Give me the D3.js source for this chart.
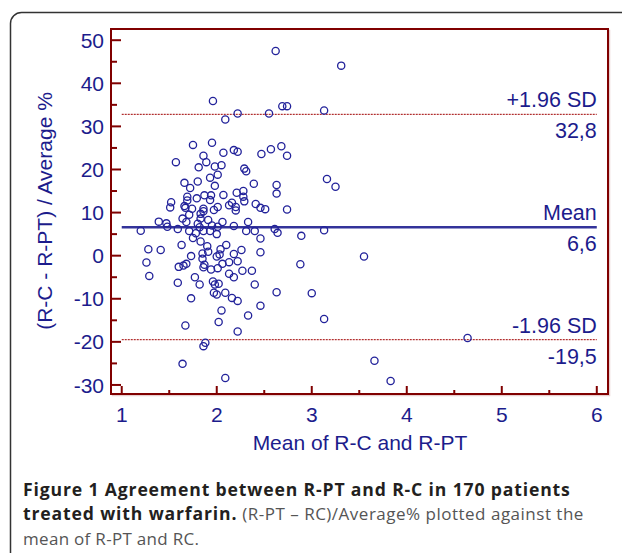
<!DOCTYPE html>
<html><head><meta charset="utf-8">
<script src="https://cdn.jsdelivr.net/npm/d3@7"></script>
<style>body{margin:0;background:#fff}svg{display:block}</style>
</head><body>
<script>
const meanX = [2.62,3.31,1.96,2.09,2.22,2.55,2.69,2.74,3.13,1.75,1.95,1.57,1.86,1.89,1.81,1.98,2.05,2.07,2.18,2.22,2.47,2.57,2.68,2.74,2.29,2.31,2.01,1.93,1.80,1.66,1.72,1.98,2.39,2.63,2.63,3.16,3.25,1.52,1.69,1.79,1.87,1.94,1.93,2.07,2.21,2.28,2.28,2.29,
1.51,1.69,1.66,1.67,1.74,1.86,1.86,1.97,2.01,2.13,2.16,2.20,2.20,2.41,2.46,2.51,2.74,
1.71,1.64,1.83,1.83,1.91,1.39,1.47,1.48,1.59,1.68,1.80,1.82,1.71,1.78,1.86,1.93,1.95,2.00,2.01,2.06,2.18,2.33,2.31,2.40,2.61,2.64,2.89,3.13,1.20,1.75,1.83,1.63,1.28,1.41,1.26,1.29,1.60,1.65,1.68,1.73,1.90,1.91,1.85,1.85,1.86,1.87,1.94,2.01,2.00,2.03,2.04,2.10,2.06,2.13,2.13,2.18,2.18,2.22,2.26,2.27,2.37,2.46,2.46,2.88,1.59,1.77,1.82,1.96,1.98,2.02,1.97,2.00,2.09,2.16,2.22,2.40,2.63,3.00,1.73,2.05,2.02,2.33,2.46,3.13,1.67,2.22,1.88,1.86,1.64,2.09,
3.55,4.64,3.66,3.83];
const diffPct = [47.5,44.1,35.9,31.6,33.0,33.0,34.7,34.7,33.7,25.7,26.2,21.7,23.2,21.7,20.5,20.7,21.0,23.9,24.5,24.1,23.6,24.7,25.4,23.2,20.2,19.6,18.8,18.1,17.2,16.9,15.7,16.2,16.7,16.4,14.4,17.8,16.0,12.4,13.7,13.3,14.0,14.0,12.9,14.1,14.6,15.0,13.7,12.6,
11.2,12.8,11.5,11.1,10.9,10.9,10.3,10.6,11.3,11.7,12.3,11.3,10.5,12.0,11.1,10.8,10.7,
9.5,8.6,8.6,9.7,8.3,7.9,7.5,6.7,6.2,7.8,7.4,6.6,5.7,5.2,5.7,5.7,7.0,5.0,6.7,7.8,6.9,7.8,5.7,5.7,6.2,5.3,4.6,5.9,5.8,4.1,3.3,2.5,1.5,1.3,-1.6,-4.7,-2.6,-2.3,-1.9,-0.1,2.2,0.9,0.5,-0.7,-2.7,-2.1,-3.2,-2.9,-0.2,0.3,1.5,2.5,-1.9,-1.5,-4.2,-5.0,0.4,-1.3,1.3,-3.5,-3.5,4.0,0.8,-2.0,-6.3,-5.0,-6.7,-6.0,-6.7,-6.5,-8.6,-9.0,-8.6,-9.8,-10.5,-6.7,-8.5,-8.7,-9.9,-12.7,-15.4,-13.9,-11.6,-14.7,-16.2,-17.6,-20.2,-21.0,-25.1,-28.4,
-0.2,-19.1,-24.4,-29.1];
const xTicks = [1,2,3,4,5,6];
const yTicks = [-30,-20,-10,0,10,20,30,40,50];
const refLines = [
  {name:"+1.96 SD", value:32.8, label:"32,8"},
  {name:"Mean", value:6.6, label:"6,6"},
  {name:"-1.96 SD", value:-19.5, label:"-19,5"}
];
const captionBold1 = "Figure 1 Agreement between R-PT and R-C in 170 patients";
const captionBold2 = "treated with warfarin.";
const captionRest2 = " (R-PT \u2013 RC)/Average% plotted against the";
const captionLine3 = "mean of R-PT and RC.";

const W=622,H=553;
const navy="#1c1c8c", red="#800000";
const svg=d3.select("body").append("svg").attr("width",W).attr("height",H);
const ff="Liberation Sans, Arial, sans-serif";

// outer rounded box
svg.append("rect").attr("x",10.5).attr("y",12.5).attr("width",640).attr("height",570)
  .attr("rx",11).attr("fill","none").attr("stroke","#333").attr("stroke-width",1.5);

const L=111,R=608,T=29,B=394;
const x=d3.scaleLinear().domain([0.887,6.118]).range([L,R]);
const y=d3.scaleLinear().domain([-32.1,52.6]).range([B,T]);

// frame shadow + frame
svg.append("rect").attr("x",L+1.5).attr("y",T+1.5).attr("width",R-L).attr("height",B-T)
  .attr("fill","none").attr("stroke","#e8d0d0").attr("stroke-width",1.5);
svg.append("rect").attr("x",L).attr("y",T).attr("width",R-L).attr("height",B-T)
  .attr("fill","#fff").attr("stroke",red).attr("stroke-width",2);

// y ticks inward
const g=svg.append("g");
const yMinor=d3.range(-30,51,5);
g.selectAll("line.ym").data(yMinor).join("line")
  .attr("x1",L).attr("x2",d=>L+(d%10===0?10:6)).attr("y1",d=>y(d)).attr("y2",d=>y(d))
  .attr("stroke",red).attr("stroke-width",2);
g.selectAll("text.yl").data(yTicks).join("text")
  .attr("x",L-7).attr("y",d=>y(d)).attr("dy","0.36em").attr("text-anchor","end")
  .attr("font-family",ff).attr("font-size",21).attr("fill",navy)
  .text(d=>d);
// x ticks inward
const xMinor=d3.range(1,6.01,0.5);
g.selectAll("line.xm").data(xMinor).join("line")
  .attr("y1",B).attr("y2",d=>B-(Number.isInteger(d)?8:4)).attr("x1",d=>x(d)).attr("x2",d=>x(d))
  .attr("stroke",red).attr("stroke-width",2);
g.selectAll("text.xl").data(xTicks).join("text")
  .attr("x",d=>x(d)).attr("y",422).attr("text-anchor","middle")
  .attr("font-family",ff).attr("font-size",21).attr("fill",navy)
  .text(d=>d);

// reference lines
refLines.forEach(r=>{
  const mean=r.name==="Mean";
  svg.append("line").attr("x1",x(1)).attr("x2",x(6)).attr("y1",y(r.value)).attr("y2",y(r.value))
    .attr("stroke",mean?"#33339a":"#a00000").attr("stroke-width",mean?2.6:1)
    .attr("stroke-dasharray",mean?null:"2,1");
  svg.append("text").attr("x",x(6)).attr("y",y(r.value)-7).attr("text-anchor","end")
    .attr("font-family",ff).attr("font-size",21.5).attr("fill",navy).text(r.name);
  svg.append("text").attr("x",x(6)).attr("y",y(r.value)+24).attr("text-anchor","end")
    .attr("font-family",ff).attr("font-size",21.5).attr("fill",navy).text(r.label);
});

// points
svg.append("g").selectAll("circle").data(meanX.map((v,i)=>[v,diffPct[i]])).join("circle")
  .attr("cx",d=>x(d[0])).attr("cy",d=>y(d[1])).attr("r",3.6)
  .attr("fill","none").attr("stroke","#22229a").attr("stroke-width",1.3);

// axis titles
svg.append("text").attr("x",360).attr("y",450).attr("text-anchor","middle")
  .attr("font-family",ff).attr("font-size",21).attr("fill",navy)
  .text("Mean of R-C and R-PT");
svg.append("text").attr("transform","translate(52,211) rotate(-90)").attr("text-anchor","middle")
  .attr("font-family",ff).attr("font-size",21).attr("fill",navy)
  .text("(R-C - R-PT) / Average %");

// caption
const cf="Open Sans, Noto Sans, sans-serif";
svg.append("text").attr("x",23).attr("y",496).attr("font-family",cf).attr("font-size",17.6)
  .attr("letter-spacing",0.85).attr("font-weight","bold").attr("fill","#231f20").text(captionBold1);
const t2=svg.append("text").attr("x",23).attr("y",520.3).attr("font-family",cf).attr("font-size",17.6);
t2.append("tspan").attr("font-weight","bold").attr("letter-spacing",0.85).attr("fill","#231f20").text(captionBold2);
t2.append("tspan").attr("fill","#555").attr("font-size",17).attr("letter-spacing",0.5).text(captionRest2);
svg.append("text").attr("x",23).attr("y",544.6).attr("font-family",cf).attr("font-size",17)
  .attr("letter-spacing",0.3).attr("fill","#555").text(captionLine3);
</script>
</body></html>
